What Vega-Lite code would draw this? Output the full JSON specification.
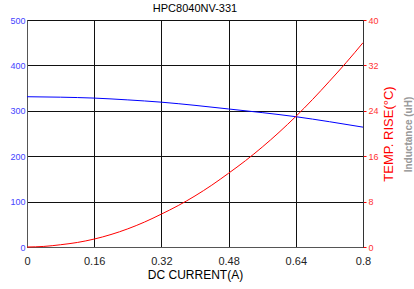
{
  "$schema": "https://vega.github.io/schema/vega-lite/v6.json",
  "width": 336,
  "height": 227,
  "autosize": {"type": "none"},
  "padding": {"left": 27, "top": 20, "right": 51, "bottom": 42},
  "background": "white",
  "config": {"font": "Liberation Sans", "view": {"stroke": "#555", "strokeWidth": 1}},
  "title": {"text": "HPC8040NV-331", "fontSize": 11, "fontWeight": "normal", "color": "#000", "offset": 2},
  "datasets": {
    "ind": [
      {"I": 0, "L": 331}, {"I": 0.08, "L": 330}, {"I": 0.16, "L": 328}, {"I": 0.24, "L": 324},
      {"I": 0.32, "L": 319}, {"I": 0.4, "L": 312}, {"I": 0.48, "L": 304}, {"I": 0.56, "L": 296},
      {"I": 0.64, "L": 287}, {"I": 0.72, "L": 276}, {"I": 0.8, "L": 264}
    ],
    "temp": [
      {"I": 0, "T": 0}, {"I": 0.04, "T": 0.1}, {"I": 0.08, "T": 0.4}, {"I": 0.12, "T": 0.8},
      {"I": 0.16, "T": 1.4}, {"I": 0.2, "T": 2.2}, {"I": 0.24, "T": 3.2}, {"I": 0.28, "T": 4.4},
      {"I": 0.32, "T": 5.8}, {"I": 0.36, "T": 7.3}, {"I": 0.4, "T": 9}, {"I": 0.44, "T": 10.9},
      {"I": 0.48, "T": 13}, {"I": 0.52, "T": 15.2}, {"I": 0.56, "T": 17.6}, {"I": 0.6, "T": 20.2},
      {"I": 0.64, "T": 23}, {"I": 0.68, "T": 26}, {"I": 0.72, "T": 29.2}, {"I": 0.76, "T": 32.5},
      {"I": 0.8, "T": 36}
    ]
  },
  "layer": [
    {
      "data": {"name": "ind"},
      "mark": {"type": "line", "color": "#0000ff", "strokeWidth": 1, "interpolate": "monotone"},
      "encoding": {
        "x": {"field": "I", "type": "quantitative", "scale": {"domain": [0, 0.8], "nice": false},
          "axis": {"values": [0, 0.16, 0.32, 0.48, 0.64, 0.8], "format": ".2~f", "title": "DC CURRENT(A)",
            "titleFontSize": 12, "titleFontWeight": "normal", "titleColor": "#000", "titlePadding": 3,
            "labelFontSize": 11, "labelColor": "#222", "labelPadding": 8, "tickSize": 0,
            "grid": true, "gridColor": "#111", "gridOpacity": 1, "domainColor": "#555", "labelFlush": false}},
        "y": {"field": "L", "type": "quantitative", "scale": {"domain": [0, 500], "nice": false},
          "axis": {"orient": "left", "values": [0, 100, 200, 300, 400, 500], "title": "Inductance (uH)",
            "titleColor": "#999", "titleFontSize": 10, "titleFontWeight": "bold", "titleAngle": 270,
            "titleX": 381, "titleY": 114, "titleAlign": "center", "titleBaseline": "middle",
            "labelFontSize": 9, "labelColor": "#4444ff", "labelPadding": 2, "tickSize": 0,
            "grid": true, "gridColor": "#111", "gridOpacity": 1, "domainColor": "#555"}}
      }
    },
    {
      "data": {"name": "temp"},
      "mark": {"type": "line", "color": "#ff0000", "strokeWidth": 1, "interpolate": "monotone"},
      "encoding": {
        "x": {"field": "I", "type": "quantitative"},
        "y": {"field": "T", "type": "quantitative", "scale": {"domain": [0, 40], "nice": false},
          "axis": {"orient": "right", "values": [0, 8, 16, 24, 32, 40], "title": "TEMP. RISE(°C)",
            "titleColor": "#ff0000", "titleFontSize": 13, "titleFontWeight": "normal", "titleAngle": 270,
            "titlePadding": 17, "labelFontSize": 9, "labelColor": "#ff3333", "labelPadding": 2,
            "tickSize": 3, "tickColor": "#ff0000", "grid": false, "domainColor": "#333"}}
      }
    }
  ],
  "resolve": {"scale": {"y": "independent"}}
}
